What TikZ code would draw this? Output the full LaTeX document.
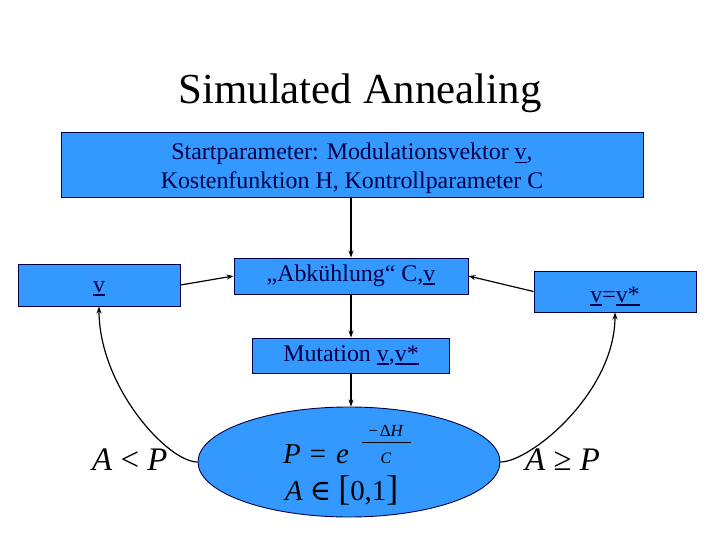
\documentclass[tikz,border=0pt]{standalone}
\usepackage{fontspec}
\setmainfont{Liberation Serif}
\newfontfamily\symfont{DejaVu Serif}
\usetikzlibrary{arrows.meta,shapes.geometric}
\definecolor{boxfill}{RGB}{51,153,255}
\definecolor{navy}{RGB}{0,0,70}
\newcommand\myul[1]{\begingroup\setbox0\hbox{#1}\rlap{\rule[-3.5bp]{\wd0}{1.8bp}}\box0\endgroup}
\newcommand\lowered[2]{\raisebox{-#1}[\height][\depth]{#2}}
\begin{document}
\begin{tikzpicture}[x=1bp,y=-1bp,
  box/.style={draw=navy,fill=boxfill,line width=0.9pt,text=navy,inner sep=0pt,
    font=\fontsize{24}{29}\selectfont},
  arr/.style={-{Stealth[length=7bp,width=5bp]},line width=1.2bp,black},
  mathtxt/.style={inner sep=0pt,text=black}]
\fill[white] (0,0) rectangle (720,540);
\useasboundingbox (0,0) rectangle (720,540);
\node[anchor=base,font=\fontsize{43}{50}\selectfont,inner sep=0pt] (title) at (360,104) {Simulated Annealing};
\node[box,minimum width=582bp,minimum height=65bp] (start) at (352,164.5)
  {\lowered{4bp}{\begin{tabular}{@{}c@{}}Startparameter: Modulationsvektor \myul{v},\\Kostenfunktion H, Kontrollparameter C\end{tabular}}};
\node[box,minimum width=162bp,minimum height=42bp] (vbox) at (99,285) {\lowered{4bp}{\myul{v}}};
\node[box,minimum width=234bp,minimum height=36bp] (abk) at (351,276) {„Abkühlung“ C,\myul{v}};
\node[box,minimum width=162bp,minimum height=41bp] (rbox) at (615,291.5) {\lowered{5bp}{\myul{v}=\myul{v*}}};
\node[box,minimum width=197bp,minimum height=35bp] (mut) at (351,355.5) {Mutation \myul{v},\myul{v*}};
\node[ellipse,draw=navy,fill=boxfill,line width=0.9pt,minimum width=302bp,minimum height=110bp,inner sep=0pt] (ell) at (349,462) {};
% formulas inside ellipse
\node[mathtxt,anchor=base west,font=\fontsize{29}{32}\selectfont] (peq) at (283,463)
  {\textit{P}\hspace{9bp}=\hspace{10bp}\textit{e}};
\node[mathtxt,anchor=base,font=\fontsize{17}{19}\selectfont] (num) at (386,436) {−\hspace{2bp}Δ\textit{H}};
\draw[line width=1bp] (362,442) -- (411,442);
\node[mathtxt,anchor=base,font=\fontsize{16}{18}\selectfont] (den) at (386,463) {\textit{C}};
\node[mathtxt,anchor=base west,font=\fontsize{29}{32}\selectfont] (aeq) at (285,500)
  {\textit{A}\hspace{7bp}{\symfont ∈}\hspace{7bp}{\fontsize{36}{36}\selectfont[}0,1{\fontsize{36}{36}\selectfont]}};
% labels
\node[mathtxt,anchor=base west,font=\fontsize{33}{36}\selectfont] (lt) at (92,470) {\textit{A} < \textit{P}};
\node[mathtxt,anchor=base west,font=\fontsize{33}{36}\selectfont] (ge) at (525,470) {\textit{A} ≥ \textit{P}};
% connectors
\draw[arr] (abk.north |- start.south) -- (abk.north);
\draw[arr] (abk.south) -- (mut.north);
\draw[arr] (mut.south) -- (mut.south |- ell.north);
\draw[arr] (vbox.east) -- (abk.west);
\draw[arr] (rbox.west) -- (abk.east);
\draw[arr] (ell.west) .. controls +(-30,0) and +(0,80) .. (vbox.south);
\draw[arr] (ell.east) .. controls +(30,0) and +(0,80) .. (rbox.south);
\end{tikzpicture}
\end{document}
